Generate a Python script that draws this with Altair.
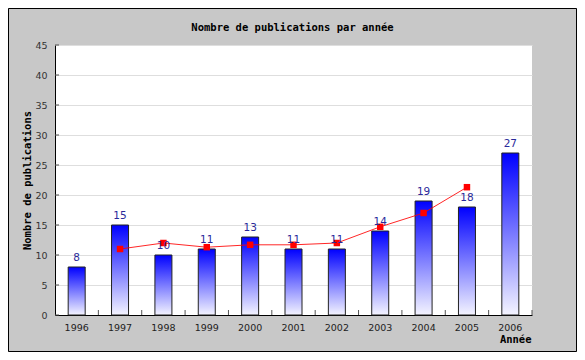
import altair as alt
import pandas as pd

years = ["1996", "1997", "1998", "1999", "2000", "2001", "2002", "2003", "2004", "2005", "2006"]
pubs = [8, 15, 10, 11, 13, 11, 11, 14, 19, 18, 27]
avg_years = ["1997", "1998", "1999", "2000", "2001", "2002", "2003", "2004", "2005"]
avg_vals = [11, 12, 11.3, 11.7, 11.7, 12, 14.7, 17, 21.3]
y_ticks = [0, 5, 10, 15, 20, 25, 30, 35, 40, 45]
title_text = ["Nombre de publications par année"]

bars_df = pd.DataFrame({"year": years, "value": pubs})
avg_df = pd.DataFrame({"year": avg_years, "value": avg_vals})
yt_df = pd.DataFrame({"value": y_ticks})
one = pd.DataFrame({"k": [0]})
title_df = pd.DataFrame({"t": title_text})

LABEL_FONT = "DejaVu Sans"
MONO = "DejaVu Sans Mono"

xscale = alt.Scale(domain=years, paddingInner=0, paddingOuter=0)
yscale = alt.Scale(domain=[0, 45], nice=False)

x_axis = alt.Axis(title="Année", titleFont=MONO, titleFontWeight="bold", titleFontSize=10.5,
                  titleAlign="right", titleX=476, titleY=24, titleBaseline="middle",
                  titleColor="#000000",
                  labelAngle=0, labelFont=LABEL_FONT, labelFontSize=9.5, labelColor="#222222",
                  labelPadding=7, ticks=False, domainColor="#000000", domainWidth=1)
y_axis = alt.Axis(title="Nombre de publications", titleFont=MONO, titleFontWeight="bold",
                  titleFontSize=10.5, titleColor="#000000", titleAngle=-90,
                  titleX=-28, titleY=135, titleAlign="center", titleBaseline="middle",
                  values=y_ticks, tickCount=10, labelOverlap=False, labelFont=LABEL_FONT,
                  labelFontSize=9.5, labelColor="#333333", labelPadding=8, ticks=False, grid=True,
                  gridColor="#dedede", domainColor="#000000", domainWidth=1)

X = alt.X("year:O", scale=xscale, sort=years, axis=x_axis)
Y = alt.Y("value:Q", scale=yscale, axis=y_axis)

grad = alt.LinearGradient(
    gradient="linear",
    stops=[alt.GradientStop(color="#0000ff", offset=0),
           alt.GradientStop(color="#f4f4ff", offset=1)],
    x1=0, x2=0, y1=0, y2=1,
)

bars = alt.Chart(bars_df).mark_bar(size=17, color=grad, stroke="#222222", strokeWidth=1).encode(
    x=X, y=Y,
)

labels = alt.Chart(bars_df).mark_text(font=LABEL_FONT, fontSize=10.5, color="#2a2a9a",
                                       baseline="bottom", dy=-4).encode(
    x=X, y=Y, text=alt.Text("value:Q"),
)

line = alt.Chart(avg_df).mark_line(color="#ff0000", strokeWidth=1, opacity=0.85).encode(
    x=X, y=Y,
)

pts = alt.Chart(avg_df).mark_square(color="#ff0000", size=42, opacity=1).encode(
    x=X, y=Y,
)

xticks = alt.Chart(bars_df).mark_rule(color="#555555", strokeWidth=1).encode(
    x=alt.X("year:O", scale=xscale, sort=years, bandPosition=1, axis=x_axis),
    y=alt.value(270),
    y2=alt.value(265),
)

yticks = alt.Chart(yt_df).mark_rule(color="#555555", strokeWidth=1).encode(
    x=alt.value(0),
    x2=alt.value(4),
    y=Y,
)

border = alt.Chart(one).mark_rect(fill=None, stroke="#000000", strokeWidth=1).encode(
    x=alt.value(-46.5), x2=alt.value(521.5),
    y=alt.value(-36.5), y2=alt.value(306.5),
)

title = alt.Chart(title_df).mark_text(font=MONO, fontSize=10.5, fontWeight="bold", color="#000000",
                                      align="center", baseline="middle").encode(
    x=alt.value(237.5), y=alt.value(-17), text="t:N",
)

chart = alt.layer(bars, xticks, yticks, line, pts, labels, border, title).properties(
    width=477,
    height=270,
    autosize=alt.AutoSizeParams(type="none"),
    padding={"left": 47, "top": 37, "right": 45, "bottom": 37},
    background="#c8c8c8",
).configure_view(fill="#ffffff", stroke=None)

chart.save("out.html", embed_options={"renderer": "svg", "actions": False})
